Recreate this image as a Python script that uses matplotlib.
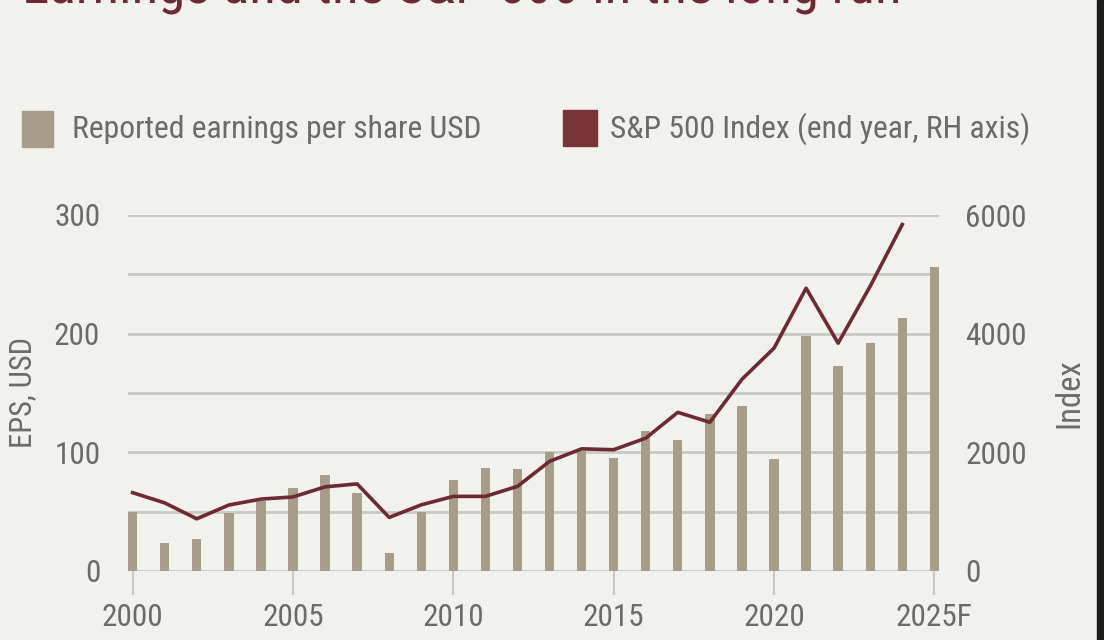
import matplotlib
matplotlib.use("Agg")
import matplotlib.pyplot as plt
from matplotlib.patches import Rectangle

# data
years = list(range(2000, 2026))
eps = [50, 24, 27, 49, 59, 70, 81, 66, 15, 50, 77, 87, 86, 100, 101,
       95, 118, 110, 132, 139, 94, 198, 173, 192, 213, 256]
index_years = list(range(2000, 2025))
sp500 = [1320, 1148, 880, 1112, 1212, 1248, 1418, 1468, 903, 1115, 1258,
         1258, 1426, 1848, 2059, 2044, 2239, 2674, 2507, 3231, 3756, 4766,
         3840, 4800, 5840]
tick_years = [2000, 2005, 2010, 2015, 2020, 2025]
tick_labels = ["2000", "2005", "2010", "2015", "2020", "2025F"]

bg = "#f1f1ed"
bar_col = "#a79d89"
line_col = "#6e2a32"
grid_col = "#c9c9c4"
txt_col = "#6b6b6b"

plt.rcParams["font.family"] = ["Roboto Condensed", "DejaVu Sans"]

fig = plt.figure(figsize=(11.04, 6.4), dpi=100, facecolor=bg)
ax = fig.add_axes([128 / 1104, 1 - 571 / 640, 811 / 1104, 356 / 640])
ax.set_facecolor(bg)

w = 0.29
ax.bar(years, eps, width=w, color=bar_col, zorder=2)
ax.set_xlim(2000 - w / 2, 2025 + w / 2)
ax.set_ylim(0, 300)
ax.set_yticks([0, 100, 200, 300])
ax.set_yticks([50, 150, 250], minor=True)
ax.grid(axis="y", which="both", color=grid_col, lw=2)
ax.set_axisbelow(True)
for s in ax.spines.values():
    s.set_visible(False)
ax.set_xticks(tick_years)
ax.set_xticklabels(tick_labels)
ax.tick_params(axis="x", length=17, width=1.5, color=grid_col, pad=6,
               labelsize=22.5, labelcolor=txt_col)
ax.tick_params(axis="y", which="both", length=0, pad=20, labelsize=22.5,
               labelcolor=txt_col)
ax.set_ylabel("EPS, USD", fontsize=22, color=txt_col)
ax.yaxis.set_label_coords(-0.112, 0.5)

ax2 = ax.twinx()
ax2.plot(index_years, sp500, color=line_col, lw=2.6, zorder=3)
ax2.set_ylim(0, 6000)
ax2.set_yticks([0, 2000, 4000, 6000])
for s in ax2.spines.values():
    s.set_visible(False)
ax2.tick_params(axis="y", length=0, pad=19, labelsize=22.5, labelcolor=txt_col)
ax2.set_ylabel("Index", fontsize=23.5, color=txt_col)
ax2.yaxis.set_label_coords(1.1406, 0.5)

# cut-off title at the very top
fig.text(22 / 1104, 1 - 2.5 / 640, "Earnings and the S&P 500 in the long run",
         fontsize=39.5, color=line_col, va="baseline", ha="left")

# legend row
fig.patches.append(Rectangle((22 / 1104, 1 - 147 / 640), 31 / 1104, 36 / 640,
                             transform=fig.transFigure, color=bar_col))
fig.text(72 / 1104, 1 - 129 / 640, "Reported earnings per share USD",
         fontsize=22.8, color=txt_col, va="center", ha="left")
fig.patches.append(Rectangle((563 / 1104, 1 - 146 / 640), 34 / 1104, 36 / 640,
                             transform=fig.transFigure, color="#7a3338"))
fig.text(610 / 1104, 1 - 129 / 640, "S&P 500 Index (end year, RH axis)",
         fontsize=22.8, color=txt_col, va="center", ha="left")

# dark screen edge on the right
fig.patches.append(Rectangle((1097 / 1104, 0), 7 / 1104, 1,
                             transform=fig.transFigure, color="#1c1c1c"))

fig.savefig("out.png", dpi=100, facecolor=bg)
